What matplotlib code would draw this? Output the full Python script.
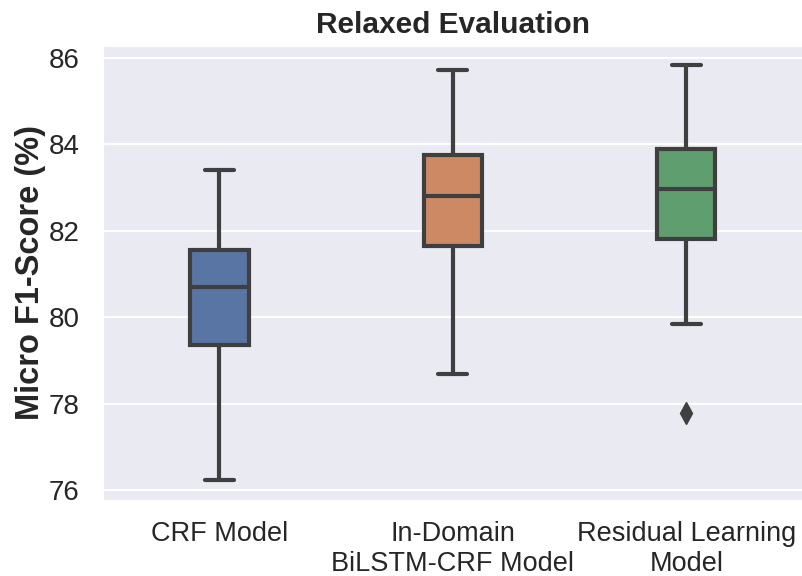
import matplotlib.pyplot as plt
import seaborn as sns

# Five-number summaries of micro F1 (%) per model
models = ["CRF Model", "In-Domain\nBiLSTM-CRF Model", "Residual Learning\nModel"]
whisker_low = [76.23, 78.68, 79.83]
q1 = [79.35, 81.64, 81.80]
median = [80.69, 82.79, 82.97]
q3 = [81.54, 83.74, 83.88]
whisker_high = [83.39, 85.72, 85.84]
outliers = [[], [], [77.78]]

box_colors = ["#5975A4", "#CC8963", "#5F9E6E"]
line_gray = "#3F3F3F"

sns.set_style("darkgrid")
plt.rcParams["font.family"] = ["Liberation Sans", "DejaVu Sans"]

stats = []
for i, name in enumerate(models):
    stats.append({
        "label": name,
        "whislo": whisker_low[i],
        "q1": q1[i],
        "med": median[i],
        "q3": q3[i],
        "whishi": whisker_high[i],
        "fliers": outliers[i],
    })

fig = plt.figure(figsize=(8.03, 5.76), dpi=100)
ax = fig.add_axes([0.128, 0.132, 0.872, 0.789])

lw = 3
bp = ax.bxp(
    stats,
    positions=range(len(models)),
    widths=0.25,
    patch_artist=True,
    boxprops=dict(edgecolor=line_gray, linewidth=lw),
    whiskerprops=dict(color=line_gray, linewidth=lw),
    capprops=dict(color=line_gray, linewidth=lw),
    medianprops=dict(color=line_gray, linewidth=lw),
    flierprops=dict(marker="d", markerfacecolor=line_gray,
                    markeredgecolor=line_gray, markersize=11),
    capwidths=0.125,
)
for patch, c in zip(bp["boxes"], box_colors):
    patch.set_facecolor(c)

ax.set_xlim(-0.5, 2.5)
ax.set_ylim(75.77, 86.28)
ax.set_yticks([76, 78, 80, 82, 84, 86])
ax.set_xticks(range(len(models)))
ax.set_xticklabels(models, fontsize=19.5, color="#262626")
ax.tick_params(axis="x", pad=12)
ax.tick_params(axis="y", labelsize=20, colors="#262626", pad=13)
ax.grid(axis="x", visible=False)
ax.grid(axis="y", color="white", linewidth=1.5)
ax.set_ylabel("Micro F1-Score (%)", fontsize=23.5, fontweight="bold",
              color="#262626", labelpad=2)
ax.set_title("Relaxed Evaluation", fontsize=21.5, fontweight="bold",
             color="#262626", pad=9)

fig.savefig("out.png", dpi=100)
